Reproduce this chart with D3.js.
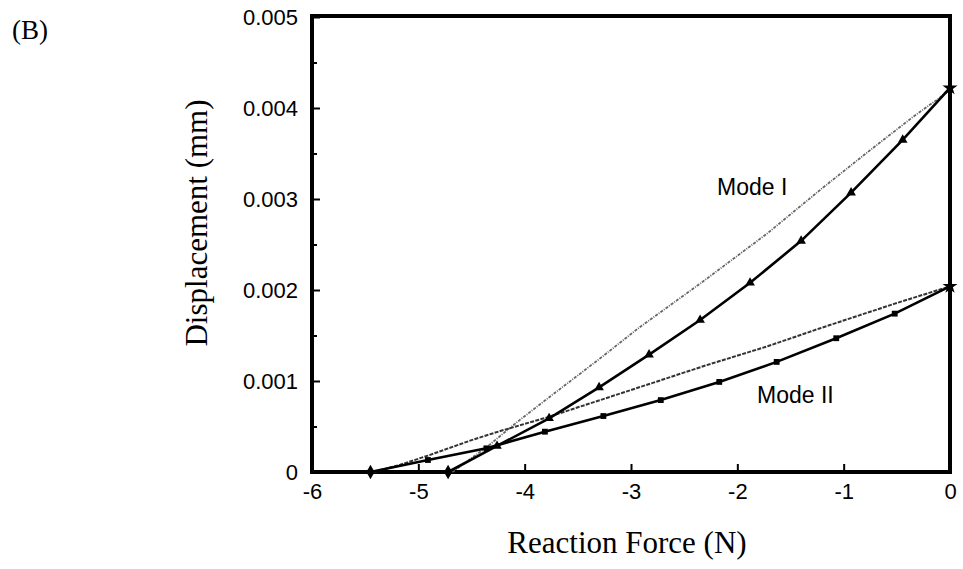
<!DOCTYPE html>
<html>
<head>
<meta charset="utf-8">
<script src="https://cdn.jsdelivr.net/npm/d3@7"></script>
<style>
  html, body { margin: 0; padding: 0; background: #fff; }
  svg { display: block; }
</style>
</head>
<body>
<svg id="chart" width="963" height="569"></svg>
<script>
// ---- data (Reaction Force in N, Displacement in mm) ----
const modeIExpForce = [-4.72, -4.26, -3.77, -3.30, -2.83, -2.35, -1.88, -1.40, -0.93, -0.445, 0];
const modeIExpDisp  = [0, 0.000286, 0.00059, 0.00093, 0.00129, 0.00167, 0.00208, 0.00254, 0.00307, 0.00365, 0.00422];

const modeIIExpForce = [-5.45, -4.91, -4.36, -3.81, -3.26, -2.72, -2.17, -1.63, -1.07, -0.52, 0];
const modeIIExpDisp  = [0, 0.000132, 0.00026, 0.000443, 0.000615, 0.00079, 0.00099, 0.00121, 0.00147, 0.00174, 0.00204];

const modeISimForce = [-4.68, -4.36, -4.07, -3.76, -3.30, -2.92, -2.35, -1.72, -1.20, -0.78, -0.35, -0.10, 0];
const modeISimDisp  = [0, 0.00027, 0.00055, 0.00083, 0.00124, 0.00159, 0.00207, 0.00262, 0.00312, 0.00351, 0.00390, 0.00411, 0.00422];

const modeIISimForce = [-5.42, -5.17, -4.91, -4.5, -4.23, -3.79, -3.29, -2.82, -2.3, -1.72, -1.22, -0.52, 0];
const modeIISimDisp  = [0, 0.00008, 0.00018, 0.00035, 0.00045, 0.00060, 0.00079, 0.00097, 0.00117, 0.00138, 0.00158, 0.00185, 0.00204];

const xTicks = [-6, -5, -4, -3, -2, -1, 0];
const yTicks = [0, 0.001, 0.002, 0.003, 0.004, 0.005];
const yMinorTicks = [0.0005, 0.0015, 0.0025, 0.0035, 0.0045];

const svg = d3.select("#chart");
const L = 312, R = 950, T = 17, B = 472;

const x = d3.scaleLinear().domain([-6, 0]).range([L, R]);
const y = d3.scaleLinear().domain([0, 0.005]).range([B, T]);

const zip = (a, b) => a.map((v, i) => [v, b[i]]);
const line = d3.line().x(d => x(d[0])).y(d => y(d[1]));

// axes
const fmtY = d => d === 0 ? "0" : d3.format(".3f")(d);
const fmtX = d => d === 0 ? "0" : String(d);

const gy = svg.append("g").attr("transform", `translate(${L},0)`)
  .call(d3.axisLeft(y).tickValues(yTicks).tickSize(-8).tickPadding(14).tickFormat(fmtY));
const gyMinor = svg.append("g").attr("transform", `translate(${L},0)`)
  .call(d3.axisLeft(y).tickValues(yMinorTicks).tickSize(-5).tickFormat(""));
const gx = svg.append("g").attr("transform", `translate(0,${B})`)
  .call(d3.axisBottom(x).tickValues(xTicks).tickSize(-8).tickPadding(11).tickFormat(fmtX));

[gy, gyMinor, gx].forEach(g => {
  g.select(".domain").remove();
  g.selectAll(".tick line").attr("stroke", "#000").attr("stroke-width", 2);
  g.selectAll(".tick text").attr("fill", "#000")
    .style("font-family", "'Liberation Sans', Arial, sans-serif").style("font-size", "22px");
});

// frame
svg.append("rect").attr("x", L).attr("y", T - 1).attr("width", R - L).attr("height", B - T + 1)
  .attr("fill", "none").attr("stroke", "#000").attr("stroke-width", 4);

// simulated curves
svg.append("path").datum(zip(modeISimForce, modeISimDisp)).attr("d", line)
  .attr("fill", "none").attr("stroke", "#666").attr("stroke-width", 1.8).attr("stroke-dasharray", "3,1.2,1,1.2");
svg.append("path").datum(zip(modeIISimForce, modeIISimDisp)).attr("d", line)
  .attr("fill", "none").attr("stroke", "#333").attr("stroke-width", 2).attr("stroke-dasharray", "4,1.3");

// experimental curves
svg.append("path").datum(zip(modeIExpForce, modeIExpDisp)).attr("d", line)
  .attr("fill", "none").attr("stroke", "#000").attr("stroke-width", 2.6);
svg.append("path").datum(zip(modeIIExpForce, modeIIExpDisp)).attr("d", line)
  .attr("fill", "none").attr("stroke", "#000").attr("stroke-width", 2.6);

function markers(data, midType, midSize) {
  const n = data.length;
  svg.append("g").selectAll("path").data(data).join("path")
    .attr("transform", d => `translate(${x(d[0])},${y(d[1])})`)
    .attr("d", (d, i) => {
      if (i === 0) return d3.symbol(d3.symbolDiamond, 60)();
      if (i === n - 1) return d3.symbol(d3.symbolStar, 70)();
      return d3.symbol(midType, midSize)();
    })
    .attr("fill", "#000");
}
markers(zip(modeIExpForce, modeIExpDisp), d3.symbolTriangle, 40);
markers(zip(modeIIExpForce, modeIIExpDisp), d3.symbolSquare, 34);

// labels
const sans = "'Liberation Sans', Arial, sans-serif";
const serif = "'Liberation Serif', 'Times New Roman', serif";
svg.append("text").attr("x", 717).attr("y", 195).text("Mode I")
  .style("font-family", sans).style("font-size", "23px");
svg.append("text").attr("x", 757).attr("y", 403).text("Mode II")
  .style("font-family", sans).style("font-size", "23px");

svg.append("text").attr("x", 627).attr("y", 553).attr("text-anchor", "middle")
  .text("Reaction Force (N)").style("font-family", serif).style("font-size", "31px");
svg.append("text").attr("transform", "translate(207,223) rotate(-90)").attr("text-anchor", "middle")
  .text("Displacement (mm)").style("font-family", serif).style("font-size", "31px");
svg.append("text").attr("x", 12).attr("y", 39).text("(B)")
  .style("font-family", serif).style("font-size", "27px");
</script>
</body>
</html>
